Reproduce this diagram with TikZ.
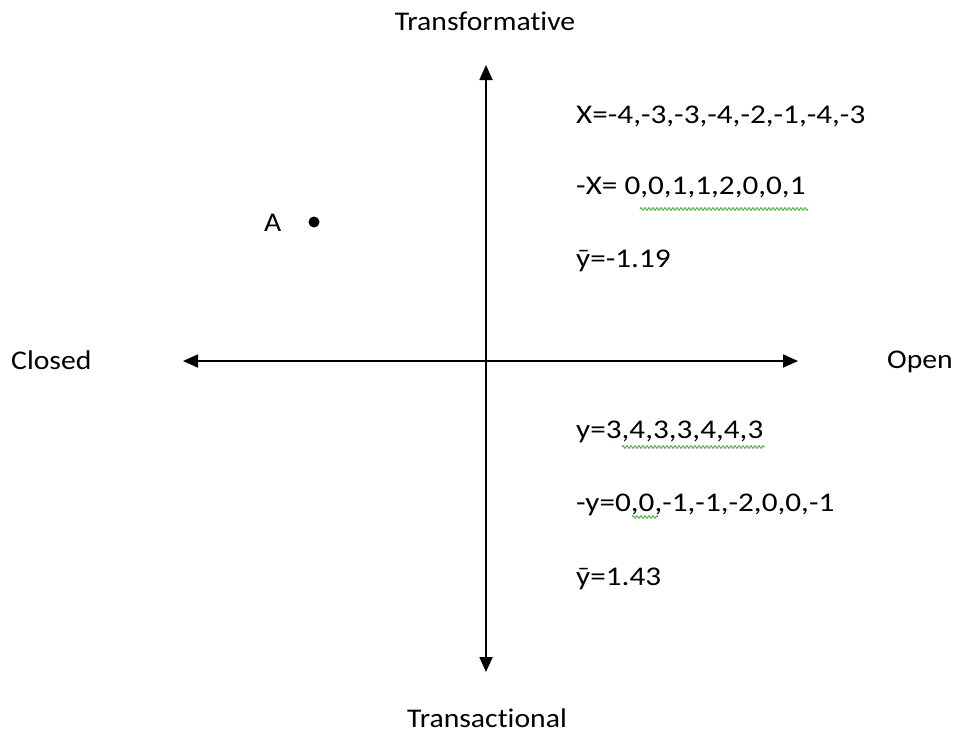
\documentclass[tikz,border=0pt]{standalone}
\usepackage{fontspec}
\setmainfont{Carlito}[Ligatures=NoCommon]
\newfontfamily\lblfont{Carlito}[FakeStretch=1.1,Ligatures=NoCommon]
\newfontfamily\valfont{Carlito}[FakeStretch=1.155,Ligatures=NoCommon]
\usetikzlibrary{arrows.meta,decorations.pathmorphing}
\definecolor{spell}{RGB}{70,170,60}
\tikzset{
  axis/.style={line width=1.8pt,{Triangle[length=15pt,width=13pt]}-{Triangle[length=15pt,width=13pt]}},
  lbl/.style={inner sep=0pt,font=\lblfont\fontsize{27}{32}\selectfont,text=black},
  vals/.style={inner sep=0pt,anchor=base west,font=\valfont\fontsize{27}{32}\selectfont,text=black},
  squiggle/.style={draw=spell,line width=0.9pt,decorate,decoration={zigzag,amplitude=1.4pt,segment length=4pt}}
}
\begin{document}
\begin{tikzpicture}[x=1pt,y=-1pt]
\useasboundingbox (0,0) rectangle (955,734);
\coordinate (top) at (486,65);
\coordinate (bot) at (486,672);
\coordinate (lft) at (183,361);
\coordinate (rgt) at (798,361);
\draw[axis] (bot) -- (top);
\draw[axis] (lft) -- (rgt);
\node[lbl,anchor=base] (tf) at (485,30) {Transformative};
\node[lbl,anchor=base] (tc) at (487,727) {Transactional};
\node[lbl,anchor=base west] (cl) at (11,369) {Closed};
\node[lbl,anchor=base east] (op) at (953,368) {Open};
\node[lbl,anchor=base west] (a) at (264,231) {A};
\fill (314,222) circle (5.5pt);
\node[vals] (x1) at (576,123) {X=-4,-3,-3,-4,-2,-1,-4,-3};
\node[vals] (x2) at (576,194) {-X= 0,0,1,1,2,0,0,1};
\node[vals] (x3) at (576,267) {ȳ=-1.19};
\node[vals] (y1) at (576,438) {y=3,4,3,3,4,4,3};
\node[vals] (y2) at (576,511) {-y=0,0,-1,-1,-2,0,0,-1};
\node[vals] (y3) at (576,585) {ȳ=1.43};
\draw[squiggle] (640,209) -- (808,209);
\draw[squiggle] (622,447) -- (765,447);
\draw[squiggle] (632,517) -- (658,517);
\end{tikzpicture}
\end{document}
